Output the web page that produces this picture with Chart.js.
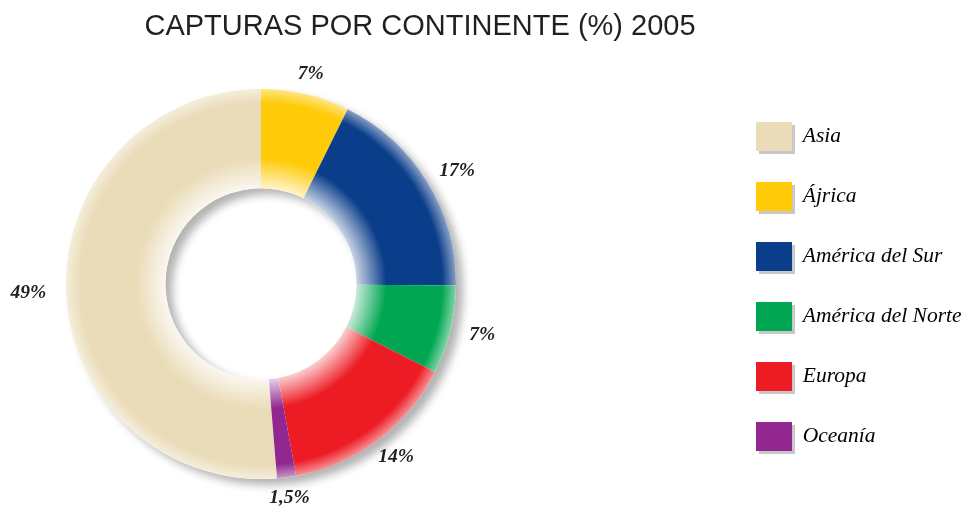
<!DOCTYPE html>
<html>
<head>
<meta charset="utf-8">
<script src="https://cdn.jsdelivr.net/npm/chart.js@4/dist/chart.umd.min.js"></script>
<style>
  html, body { margin: 0; padding: 0; background: #fff; }
  #wrap { width: 967px; height: 513px; }
</style>
</head>
<body>
<div id="wrap"><canvas id="capturas"></canvas></div>
<script>
// datos del gráfico
const continents = ['Asia', 'Ájrica', 'América del Sur', 'América del Norte', 'Europa', 'Oceanía'];
const shares = [49, 7, 17, 7, 14, 1.5];
const shareLabels = ['49%', '7%', '17%', '7%', '14%', '1,5%'];
const sliceColors = ['#eadcb8', '#ffcb08', '#0a3d8a', '#00a651', '#ed1c24', '#92278f'];

const CUTOUT = 0.49;
const total = shares.reduce((a, b) => a + b, 0);

// mezcla un color con blanco
function tint(hex, amount) {
    const n = parseInt(hex.slice(1), 16);
    const mix = c => Math.round(c + (255 - c) * amount);
    return `rgb(${mix(n >> 16)}, ${mix((n >> 8) & 255)}, ${mix(n & 255)})`;
}

// degradado radial para dar relieve a cada sector
function ringFill(context) {
    const base = sliceColors[context.dataIndex];
    const area = context.chart.chartArea;
    if (!area) return base;
    const cx = (area.left + area.right) / 2;
    const cy = (area.top + area.bottom) / 2;
    const r1 = Math.min(area.width, area.height) / 2;
    const r0 = r1 * CUTOUT;
    const g = context.chart.ctx.createRadialGradient(cx, cy, r0, cx, cy, r1);
    g.addColorStop(0, tint(base, 0.78));
    g.addColorStop(0.3, base);
    g.addColorStop(0.86, base);
    g.addColorStop(1, tint(base, 0.5));
    return g;
}

// sombra gris del anillo
const ringShadow = {
    id: 'ringShadow',
    beforeDatasetsDraw(chart) {
        const arc = chart.getDatasetMeta(0).data[0];
        if (!arc) return;
        const {x, y, innerRadius, outerRadius} = arc.getProps(['x', 'y', 'innerRadius', 'outerRadius'], true);
        const ctx = chart.ctx;
        ctx.save();
        ctx.beginPath();
        ctx.arc(x, y, outerRadius, 0, Math.PI * 2);
        ctx.arc(x, y, innerRadius, 0, Math.PI * 2, true);
        ctx.shadowColor = 'rgba(0, 0, 0, 0.3)';
        ctx.shadowBlur = 8;
        ctx.shadowOffsetX = 7;
        ctx.shadowOffsetY = 6;
        ctx.fillStyle = '#fff';
        ctx.fill();
        ctx.restore();
    }
};

// sombra de los cuadritos de la leyenda
const legendShadow = {
    id: 'legendShadow',
    beforeDraw(chart) {
        const lg = chart.legend;
        if (!lg || !lg.legendHitBoxes) return;
        const {boxWidth, boxHeight} = lg.options.labels;
        const ctx = chart.ctx;
        ctx.save();
        ctx.fillStyle = '#c8c8c8';
        lg.legendHitBoxes.forEach(hb => ctx.fillRect(hb.left + 3, hb.top + 3, boxWidth, boxHeight));
        ctx.restore();
    }
};

// porcentajes fuera del anillo
const sliceLabels = {
    id: 'sliceLabels',
    afterDatasetsDraw(chart, args, opts) {
        const ctx = chart.ctx;
        ctx.save();
        ctx.font = opts.font;
        ctx.fillStyle = opts.color;
        ctx.textAlign = 'center';
        ctx.textBaseline = 'middle';
        chart.getDatasetMeta(0).data.forEach((arc, i) => {
            const {x, y, startAngle, endAngle, outerRadius} = arc.getProps(['x', 'y', 'startAngle', 'endAngle', 'outerRadius'], true);
            const mid = (startAngle + endAngle) / 2;
            const ux = Math.cos(mid), uy = Math.sin(mid);
            const text = shareLabels[i];
            const halfW = ctx.measureText(text).width / 2;
            const r = outerRadius + opts.gap;
            ctx.fillText(text, x + ux * (r + halfW * Math.abs(ux)), y + uy * (r + opts.halfHeight * Math.abs(uy)));
        });
        ctx.restore();
    }
};

// coloca título y leyenda donde están en el original
const placeBoxes = {
    id: 'placeBoxes',
    afterLayout(chart, args, opts) {
        const t = chart.titleBlock;
        if (t) {
            const half = Math.min(opts.titleCenter, chart.width - opts.titleCenter);
            t.left = opts.titleCenter - half;
            t.right = opts.titleCenter + half;
            t.width = half * 2;
        }
        const lg = chart.legend;
        if (lg) {
            lg.right += opts.legendLeft - lg.left; lg.left = opts.legendLeft;
            lg.bottom += opts.legendTop - lg.top; lg.top = opts.legendTop;
        }
    }
};

new Chart(document.getElementById('capturas'), {
    type: 'doughnut',
    data: {
        labels: continents,
        datasets: [{
            data: shares,
            backgroundColor: ringFill,
            borderWidth: 0,
            hoverOffset: 0
        }]
    },
    options: {
        responsive: true,
        maintainAspectRatio: false,
        animation: false,
        events: [],
        cutout: (CUTOUT * 100) + '%',
        rotation: -shares[0] / total * 360,
        layout: { padding: { left: 66, right: 511, top: 0, bottom: 6 } },
        plugins: {
            title: {
                display: true,
                text: 'CAPTURAS POR CONTINENTE (%) 2005',
                color: '#231f20',
                font: { family: 'Arial, Helvetica, sans-serif', size: 29, weight: 'normal' },
                padding: { top: 10, bottom: 16 }
            },
            legend: {
                position: 'chartArea',
                align: 'start',
                labels: {
                    boxWidth: 36,
                    boxHeight: 29,
                    padding: 31,
                    color: '#231f20',
                    font: { family: '"Liberation Serif", "Times New Roman", serif', size: 21.5, style: 'italic' },
                    generateLabels(chart) {
                        return continents.map((name, i) => ({
                            text: name,
                            fillStyle: sliceColors[i],
                            strokeStyle: sliceColors[i],
                            lineWidth: 0,
                            hidden: false,
                            index: i
                        }));
                    }
                }
            },
            tooltip: { enabled: false },
            sliceLabels: {
                font: 'bold italic 19.5px "Liberation Serif", serif',
                color: '#231f20',
                gap: 20,
                halfHeight: 1
            },
            placeBoxes: { titleCenter: 420, legendLeft: 725, legendTop: 91 }
        }
    },
    plugins: [ringShadow, legendShadow, sliceLabels, placeBoxes]
});
</script>
</body>
</html>
